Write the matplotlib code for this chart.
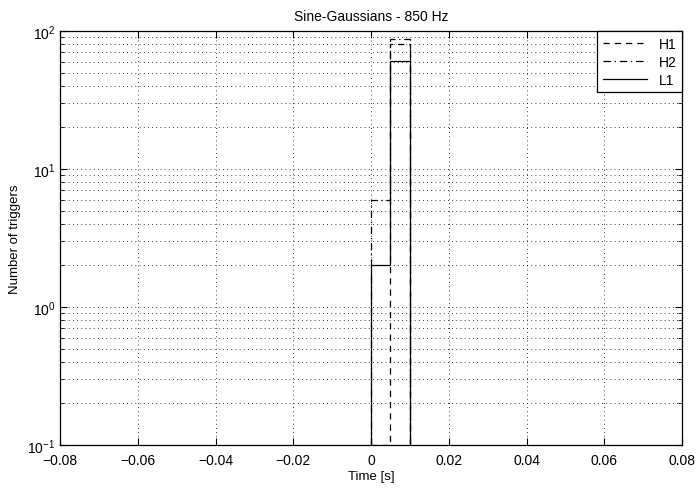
import numpy as np
import matplotlib
matplotlib.use("Agg")
import matplotlib.pyplot as plt
from matplotlib.ticker import LogLocator, FixedLocator

plt.rcParams['font.family'] = ['Liberation Sans', 'DejaVu Sans']

# Histogram bin edges (s) and trigger counts per detector
bin_edges = [0.0, 0.005, 0.01]
h1_counts = [0, 80]
h2_counts = [6, 88]
l1_counts = [2, 61]

xticks = [-0.08, -0.06, -0.04, -0.02, 0, 0.02, 0.04, 0.06, 0.08]
xtick_labels = ['\u22120.08', '\u22120.06', '\u22120.04', '\u22120.02', '0',
                '0.02', '0.04', '0.06', '0.08']

ymin, ymax = 1e-1, 1e2

fig = plt.figure(figsize=(6.96, 4.89), dpi=100)
ax = fig.add_axes([60/696, 1 - 446/489, (682-60)/696, (446-32)/489])
ax.set_yscale('log')

styles = [
    ('H1', h1_counts, (0, (5, 4))),
    ('H2', h2_counts, (0, (6, 3, 1, 3))),
    ('L1', l1_counts, '-'),
]
for name, counts, ls in styles:
    vals = np.clip(np.asarray(counts, dtype=float), ymin, None)
    ax.stairs(vals, bin_edges, baseline=ymin, color='k', linestyle=ls,
              linewidth=0.9, label=name)

ax.set_xlim(-0.08, 0.08)
ax.set_ylim(ymin, ymax)
ax.xaxis.set_major_locator(FixedLocator(xticks))
ax.set_xticklabels(xtick_labels)
ax.yaxis.set_major_locator(LogLocator(base=10, numticks=10))
ax.yaxis.set_minor_locator(LogLocator(base=10, subs=np.arange(2, 10), numticks=10))

grid_kw = dict(color='k', linestyle=(0, (1, 4)), linewidth=0.6)
ax.grid(True, which='major', axis='both', **grid_kw)
ax.grid(True, which='minor', axis='y', **grid_kw)

ax.tick_params(which='both', direction='in', top=True, right=True,
               labelsize=10, color='k')
ax.tick_params(which='major', length=5)
ax.tick_params(which='minor', length=3)
ax.tick_params(axis='x', pad=6)
for sp in ax.spines.values():
    sp.set_linewidth(0.9)

ax.set_title('Sine-Gaussians - 850 Hz', fontsize=10, pad=8)
ax.set_xlabel('Time [s]', fontsize=9.5, labelpad=2)
ax.set_ylabel('Number of triggers', fontsize=9.5, labelpad=4)

leg = ax.legend(loc='upper right', fontsize=10, frameon=True, fancybox=False,
                edgecolor='k', framealpha=1, borderaxespad=0.0,
                handlelength=3.2, borderpad=0.4, labelspacing=0.3)
leg.get_frame().set_linewidth(0.9)

fig.savefig('out.png', dpi=100)
